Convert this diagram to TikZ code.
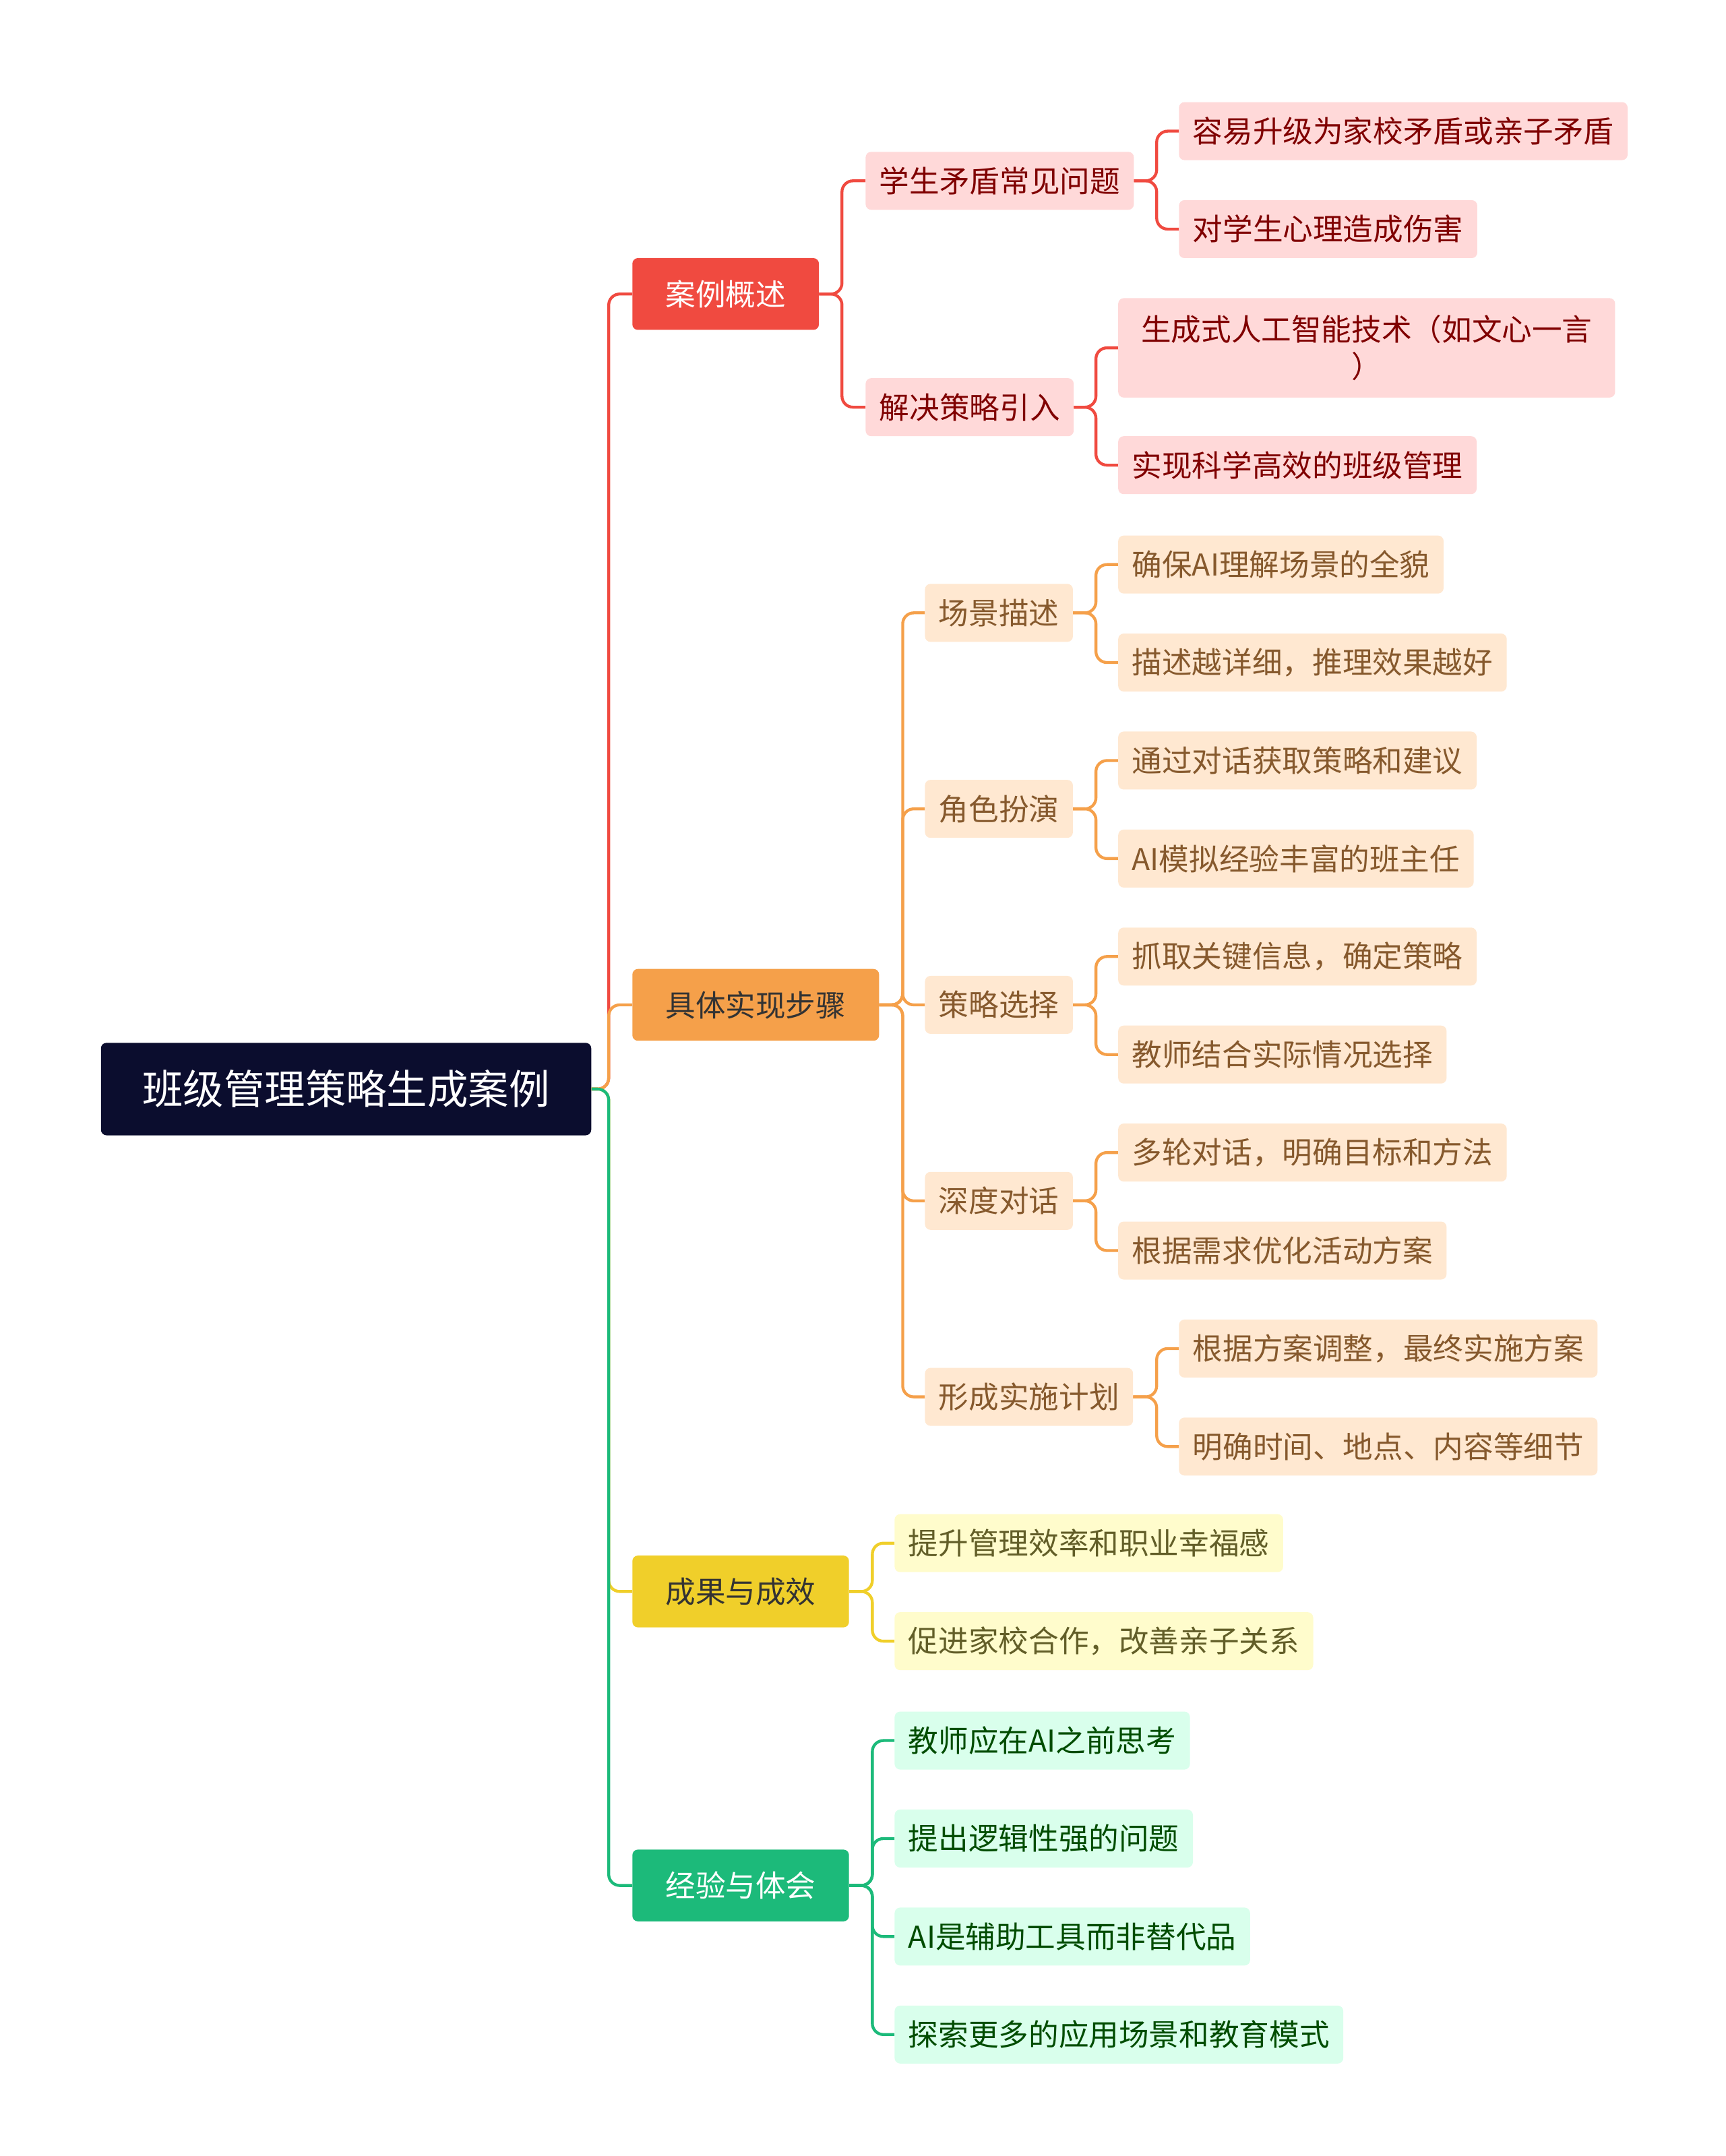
\documentclass[tikz,border=0pt]{standalone}
\usepackage{fontspec}
\setmainfont{Noto Sans CJK SC}
\begin{document}
\begin{tikzpicture}[x=0.05cm,y=-0.05cm,
 box/.style={anchor=west,rounded corners=0.2cm,inner xsep=0.5cm,minimum height=2.1cm,font=\fontsize{31}{38}\selectfont},
 lone/.style={box,minimum height=2.6cm,inner xsep=1.2cm,text=white},
 rl/.style={box,fill=red!15,text=red!50!black},
 ol/.style={box,fill=orange!18,text=brown!70!black},
 yl/.style={box,fill=yellow!20,text=olive!60!black},
 gl/.style={box,fill=green!50!cyan!15,text=green!30!black},
 c/.style={line width=3pt,rounded corners=0.4cm}]
\definecolor{cr}{HTML}{F04A40}\definecolor{co}{HTML}{F5A04A}
\definecolor{cy}{HTML}{F0CF2A}\definecolor{cg}{HTML}{1CBA7A}
\fill[white] (0,0) rectangle (1250,1562);
\node[box,fill={rgb,255:red,11;green,13;blue,46},text=white,minimum height=3.35cm,inner xsep=1.5cm,font=\fontsize{42}{50}\selectfont] (root) at (73,789) {班级管理策略生成案例};
\node[lone,fill=cr] (a) at (458,213) {案例概述};
\node[lone,fill=co,text=black!80] (b) at (458,728) {具体实现步骤};
\node[lone,fill=cy,text=black!80] (cc) at (458,1153) {成果与成效};
\node[lone,fill=cg] (d) at (458,1366) {经验与体会};
\foreach \n/\col in {a/cr,b/co,cc/cy,d/cg} \draw[c,\col] (root.east) -- (441,789) |- (\n.west);
% red
\node[rl] (a1) at (627,131) {学生矛盾常见问题};
\node[rl] (a2) at (627,295) {解决策略引入};
\foreach \n in {a1,a2} \draw[c,cr] (a.east) -- (610,213) |- (\n.west);
\node[rl] (a11) at (854,95) {容易升级为家校矛盾或亲子矛盾};
\node[rl] (a12) at (854,166) {对学生心理造成伤害};
\foreach \n in {a11,a12} \draw[c,cr] (a1.east) -- (838,131) |- (\n.west);
\node[rl,text width=17cm,align=center,minimum height=3.6cm] (a21) at (810,252) {生成式人工智能技术（如文心一言\\）};
\node[rl] (a22) at (810,337) {实现科学高效的班级管理};
\foreach \n in {a21,a22} \draw[c,cr] (a2.east) -- (794,295) |- (\n.west);
% orange
\node[ol] (b1) at (670,444) {场景描述};
\node[ol] (b2) at (670,586) {角色扮演};
\node[ol] (b3) at (670,728) {策略选择};
\node[ol] (b4) at (670,870) {深度对话};
\node[ol] (b5) at (670,1012) {形成实施计划};
\foreach \n in {b1,b2,b3,b4,b5} \draw[c,co] (b.east) -- (654,728) |- (\n.west);
\node[ol] (b11) at (810,409) {确保AI理解场景的全貌};
\node[ol] (b12) at (810,480) {描述越详细，推理效果越好};
\node[ol] (b21) at (810,551) {通过对话获取策略和建议};
\node[ol] (b22) at (810,622) {AI模拟经验丰富的班主任};
\node[ol] (b31) at (810,693) {抓取关键信息，确定策略};
\node[ol] (b32) at (810,764) {教师结合实际情况选择};
\node[ol] (b41) at (810,835) {多轮对话，明确目标和方法};
\node[ol] (b42) at (810,906) {根据需求优化活动方案};
\node[ol] (b51) at (854,977) {根据方案调整，最终实施方案};
\node[ol] (b52) at (854,1048) {明确时间、地点、内容等细节};
\foreach \p/\y in {b1/444,b2/586,b3/728,b4/870} {
  \draw[c,co] (\p.east) -- (794,\y) |- (\p1.west);
  \draw[c,co] (\p.east) -- (794,\y) |- (\p2.west);}
\draw[c,co] (b5.east) -- (838,1012) |- (b51.west);
\draw[c,co] (b5.east) -- (838,1012) |- (b52.west);
% yellow
\node[yl] (c1) at (648,1118) {提升管理效率和职业幸福感};
\node[yl] (c2) at (648,1189) {促进家校合作，改善亲子关系};
\foreach \n in {c1,c2} \draw[c,cy] (cc.east) -- (632,1153) |- (\n.west);
% green
\node[gl] (d1) at (648,1261) {教师应在AI之前思考};
\node[gl] (d2) at (648,1332) {提出逻辑性强的问题};
\node[gl] (d3) at (648,1403) {AI是辅助工具而非替代品};
\node[gl] (d4) at (648,1474) {探索更多的应用场景和教育模式};
\foreach \n in {d1,d2,d3,d4} \draw[c,cg] (d.east) -- (632,1366) |- (\n.west);
\end{tikzpicture}
\end{document}
